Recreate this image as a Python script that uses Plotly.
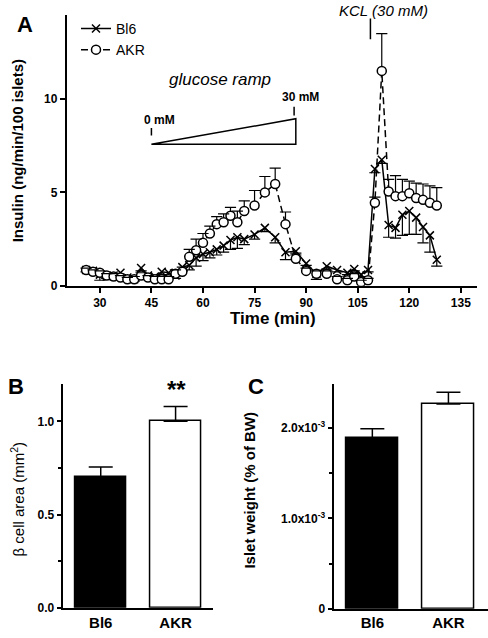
import plotly.graph_objects as go

W, H = 488, 638

# ---------------- Panel A data (perifusion) ----------------
time_min = [26, 28, 30, 32, 34, 36, 38, 40, 42, 44, 46, 48, 50, 52, 54, 56, 58, 60, 62, 64, 66, 68, 70, 72,
            75, 78, 81, 84, 87, 90, 93, 96, 99, 102,
            104, 106, 108, 110, 112, 114, 116, 118, 120, 122, 124, 126, 128]

bl6_insulin = [0.85, 0.8, 0.6, 0.5, 0.55, 0.7, 0.45, 0.35, 0.95, 0.55, 0.5, 0.75, 0.7, 0.55, 1.0, 1.1,
               1.5, 1.7, 1.8, 1.95, 2.15, 2.45, 2.6, 2.5,
               2.75, 3.1, 2.6, 1.8, 1.85, 1.2, 0.65, 1.05, 0.85, 0.7,
               0.9, 0.6, 0.85, 6.25, 6.75, 3.25, 3.1, 3.8, 4.0, 3.65, 3.15, 2.7, 1.4]
bl6_sem = [0.1, 0.1, 0.3, 0.1, 0.15, 0.1, 0.1, 0.1, 0.15, 0.1, 0.1, 0.15, 0.15, 0.15, 0.2, 0.25,
           0.45, 0.35, 0.3, 0.3, 0.35, 0.5, 0.6, 0.3,
           0.25, 0.2, 0.3, 0.4, 0.2, 0.1, 0.3, 0.15, 0.1, 0.1,
           0.1, 0.1, 0.1, 0.2, 0.2, 0.65, 0.55, 1.1, 1.25, 0.9, 0.85, 0.9, 0.35]

akr_insulin = [0.85, 0.75, 0.7, 0.55, 0.5, 0.45, 0.35, 0.35, 0.55, 0.45, 0.35, 0.35, 0.35, 0.65, 0.75, 1.55,
               1.9, 2.3, 2.8, 3.3, 3.4, 3.75, 3.4, 4.0,
               4.3, 5.0, 5.45, 3.3, 1.45, 0.8, 0.65, 0.65, 0.35, 0.3,
               0.5, 0.2, 0.3, 4.45, 11.5, 5.05, 4.8, 4.8, 4.95, 4.7, 4.6, 4.45, 4.3]
akr_sem = [0.1, 0.1, 0.1, 0.1, 0.15, 0.1, 0.1, 0.15, 0.15, 0.1, 0.15, 0.15, 0.15, 0.2, 0.25, 0.4,
           0.6, 0.5, 0.4, 0.4, 0.45, 0.45, 0.6, 0.55,
           0.8, 0.85, 0.85, 0.65, 0.3, 0.15, 0.15, 0.15, 0.15, 0.1,
           0.15, 0.1, 0.1, 0.3, 2.0, 0.65, 1.1, 0.9, 0.65, 0.8, 0.85, 0.9, 0.95]

x_ticks_A = [30, 45, 60, 75, 90, 105, 120, 135]
y_ticks_A = [0, 5, 10]

ramp_start, ramp_end = 45, 87          # glucose ramp 0 -> 30 mM
kcl_time = 108.7                       # KCl addition

# ---------------- Panels B and C data ----------------
groups = ["Bl6", "AKR"]
beta_cell_area = [0.70, 1.00]
beta_cell_sem = [0.055, 0.08]
islet_weight = [1.89e-3, 2.27e-3]
islet_weight_sem = [0.105e-3, 0.13e-3]

FONT = "Liberation Sans, Arial, Helvetica, sans-serif"
LW = 1.5


def px_x(p):
    return p / W


def px_y(p):
    return 1 - p / H


fig = go.Figure()

# ---- Bl6 time course (error bars below) ----
fig.add_trace(go.Scatter(
    x=time_min, y=bl6_insulin, mode="lines+markers", name="Bl6",
    line=dict(color="black", width=LW),
    marker=dict(symbol="x-thin-open", size=8, color="black", line=dict(color="black", width=LW)),
    error_y=dict(type="data", symmetric=False, array=[0] * len(bl6_sem), arrayminus=bl6_sem,
                 width=0, thickness=1.2, color="black"),
    xaxis="x", yaxis="y"))
fig.add_trace(go.Scatter(
    x=time_min, y=[v - e for v, e in zip(bl6_insulin, bl6_sem)], mode="markers",
    marker=dict(symbol="line-ew-open", size=8, color="black", line=dict(color="black", width=1.2)),
    showlegend=False, hoverinfo="skip", xaxis="x", yaxis="y"))

# ---- AKR time course (error bars above) ----
fig.add_trace(go.Scatter(
    x=time_min, y=akr_insulin, mode="lines+markers", name="AKR",
    line=dict(color="black", width=LW, dash="7px,4px"),
    marker=dict(symbol="circle", size=9, color="white", line=dict(color="black", width=LW)),
    error_y=dict(type="data", symmetric=False, array=akr_sem, arrayminus=[0] * len(akr_sem),
                 width=0, thickness=1.2, color="black"),
    xaxis="x", yaxis="y"))
fig.add_trace(go.Scatter(
    x=time_min, y=[v + e for v, e in zip(akr_insulin, akr_sem)], mode="markers",
    marker=dict(symbol="line-ew-open", size=8, color="black", line=dict(color="black", width=1.2)),
    showlegend=False, hoverinfo="skip", xaxis="x", yaxis="y"))

# ---- Panel B bars ----
fig.add_trace(go.Bar(
    x=[0, 1], y=beta_cell_area, width=0.68,
    marker=dict(color=["black", "white"], line=dict(color="black", width=LW)),
    error_y=dict(type="data", symmetric=False, array=beta_cell_sem, arrayminus=[0, 0],
                 color="black", thickness=LW, width=12),
    showlegend=False, xaxis="x2", yaxis="y2"))

# ---- Panel C bars ----
fig.add_trace(go.Bar(
    x=[0, 1], y=islet_weight, width=0.68,
    marker=dict(color=["black", "white"], line=dict(color="black", width=LW)),
    error_y=dict(type="data", symmetric=False, array=islet_weight_sem, arrayminus=[0, 0],
                 color="black", thickness=LW, width=12),
    showlegend=False, xaxis="x3", yaxis="y3"))

axis_common = dict(showline=True, linecolor="black", linewidth=LW, ticks="outside",
                   tickcolor="black", tickwidth=LW, ticklen=5, showgrid=False, zeroline=False,
                   tickfont=dict(family=FONT, size=12, color="black", weight="bold"))
bar_x_font = dict(family=FONT, size=15, color="black", weight="bold")

fig.update_layout(
    width=W, height=H,
    margin=dict(l=0, r=0, t=0, b=0),
    paper_bgcolor="white", plot_bgcolor="white",
    font=dict(family=FONT, color="black"),
    bargap=0,
    xaxis=dict(domain=[px_x(66.5), px_x(477)], range=[20.3, 139.7], tickvals=x_ticks_A,
               anchor="y", **axis_common),
    yaxis=dict(domain=[px_y(289), px_y(15)], range=[0, 14.5], tickvals=y_ticks_A,
               anchor="x", **axis_common),
    xaxis2=dict(domain=[px_x(63.3), px_x(213)], range=[-0.5, 1.5], tickvals=[0, 1],
                ticktext=groups, anchor="y2",
                **{**axis_common, "ticks": "", "tickfont": bar_x_font}),
    yaxis2=dict(domain=[px_y(614.5), px_y(388.3)], range=[0, 1.2], tickvals=[0, 0.5, 1.0],
                ticktext=["0.0", "0.5", "1.0"], anchor="x2",
                minor=dict(tickvals=[0.25, 0.75], ticks="outside", ticklen=4, tickcolor="black", tickwidth=LW),
                **axis_common),
    xaxis3=dict(domain=[px_x(334.3), 1.0], range=[-0.5, 1.52], tickvals=[0, 1],
                ticktext=groups, anchor="y3",
                **{**axis_common, "ticks": "", "tickfont": bar_x_font}),
    yaxis3=dict(domain=[px_y(615.5), px_y(388.3)], range=[0, 2.49e-3],
                tickvals=[0, 1.0e-3, 2.0e-3],
                ticktext=["0", "1.0x10<sup>-3</sup>", "2.0x10<sup>-3</sup>"], anchor="x3",
                minor=dict(tickvals=[0.5e-3, 1.5e-3], ticks="outside", ticklen=4, tickcolor="black", tickwidth=LW),
                **axis_common),
    legend=dict(x=px_x(76), y=px_y(13), xanchor="left", yanchor="top",
                font=dict(family=FONT, size=14, color="black"), bgcolor="rgba(0,0,0,0)",
                itemwidth=30, tracegroupgap=0),
)

# ---- ramp / KCl drawings in panel A ----
y_ramp_low, y_ramp_high = 7.57, 8.94
fig.add_shape(type="path", xref="x", yref="y",
              path=f"M {ramp_start},{y_ramp_low} L {ramp_end},{y_ramp_high} L {ramp_end},{y_ramp_low} Z",
              line=dict(color="black", width=LW), fillcolor="rgba(0,0,0,0)")
fig.add_shape(type="line", xref="x", yref="y", x0=ramp_start, x1=ramp_start, y0=8.04, y1=8.45,
              line=dict(color="black", width=LW))
fig.add_shape(type="line", xref="x", yref="y", x0=ramp_end - 0.5, x1=ramp_end - 0.5, y0=9.12, y1=9.58,
              line=dict(color="black", width=LW))
fig.add_shape(type="line", xref="x", yref="y", x0=kcl_time, x1=kcl_time, y0=13.2, y1=14.3,
              line=dict(color="black", width=LW))


def ann(text, x, y, size, bold=False, italic=False, angle=0, xanchor="center"):
    fig.add_annotation(text=text, x=px_x(x), y=px_y(y), xref="paper", yref="paper",
                       showarrow=False, textangle=angle, xanchor=xanchor, yanchor="middle",
                       font=dict(family=FONT, size=size, color="black",
                                 weight="bold" if bold else "normal",
                                 style="italic" if italic else "normal"))


ann("A", 25, 25, 22, bold=True)
ann("B", 16, 391, 22, bold=True)
ann("C", 256, 391, 22, bold=True)
ann("glucose ramp", 220, 80, 17, italic=True)
ann("0 mM", 159, 121, 12, bold=True)
ann("30 mM", 300, 98, 12, bold=True)
ann("KCL (30 mM)", 383, 11, 15, italic=True)
ann("**", 176, 394, 24, bold=True)
ann("Insulin (ng/min/100 islets)", 17, 153, 15, bold=True, angle=-90)
ann("Time (min)", 273, 322, 17, bold=True)
ann("β cell area (mm<sup>2</sup>)", 17, 505, 15, angle=-90)
ann("Islet weight (% of BW)", 250, 495, 15, bold=True, angle=-90)

fig.write_html("out.html", config={"displayModeBar": False},
               post_script="document.body.style.margin='0';document.body.style.overflow='hidden';")
